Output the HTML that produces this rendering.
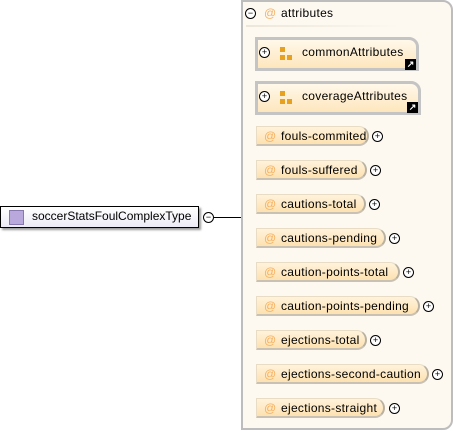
<!DOCTYPE html>
<html><head><meta charset="utf-8"><style>
body{margin:0;width:453px;height:431px;background:#fff;position:relative;overflow:hidden;font-family:"Liberation Sans",sans-serif;font-size:12px;color:#000}
.a{position:absolute}
.cont{left:241px;top:0;width:208px;height:426px;border:2px solid #bdbdbd;border-radius:0 10px 10px 0;background:#fdf9f1}
.circ{position:absolute;width:9px;height:9px;border:1px solid #000;border-radius:50%;background:#fff;font-size:9px;line-height:9px;text-align:center;box-sizing:content-box}
.attr{position:absolute;left:256px;height:20px;border-radius:0 10px 10px 0;background:linear-gradient(#fff3dc,#fde2b0);border:1px solid #e8dcc4;border-right:2px solid #b8b0a0;border-bottom:2px solid #c9c2b4;box-sizing:border-box;line-height:18px}
.attr .at{position:absolute;left:7px;color:#f5b060}
.attr .t{position:absolute;left:24px;letter-spacing:0.3px}
.grp{position:absolute;left:255px;height:34px;border:3px solid #c4c4c4;border-radius:0 10px 0 0;background:linear-gradient(#fff8ea,#fde6bc);box-sizing:border-box}
.sq{position:absolute;background:#e8a020;width:5px;height:5px}
.lnk{position:absolute;width:9px;height:9px;border:1px solid #000;background:#000;color:#fff;font-size:9px;line-height:9px;text-align:center;font-weight:bold}
</style></head><body>
<div class="a" style="left:0;top:206px;width:197px;height:20px;border:1px solid #000;background:linear-gradient(#fff,#eceaf6);box-shadow:2px 2px 2px #999"></div>
<div class="a" style="left:9px;top:210px;width:13px;height:13px;background:#b8a8dc;border:1px solid #8878b0"></div>
<div class="a" style="left:32px;top:209px">soccerStatsFoulComplexType</div>
<div class="circ" style="left:203px;top:212px">−</div>
<div class="a" style="left:214px;top:217px;width:27px;height:1px;background:#000"></div>
<div class="a cont"></div>
<div class="circ" style="left:245px;top:8px">−</div>
<div class="a" style="left:264px;top:6px;color:#f5b060">@</div>
<div class="a" style="left:281px;top:6px;letter-spacing:0.3px">attributes</div>
<div class="a" style="left:246px;top:25px;width:155px;height:2px;background:linear-gradient(90deg,#ece6da,#fdf9f1)"></div>

<div class="grp" style="top:37px;width:164px"></div>
<div class="circ" style="left:259px;top:47px">+</div>
<div class="sq" style="left:280px;top:47px"></div><div class="sq" style="left:280px;top:55px"></div><div class="sq" style="left:287px;top:55px"></div>
<div class="a" style="left:302px;top:45px;letter-spacing:0.3px">commonAttributes</div>
<div class="lnk" style="left:405px;top:59px">↗</div>

<div class="grp" style="top:81px;width:166px"></div>
<div class="circ" style="left:259px;top:91px">+</div>
<div class="sq" style="left:280px;top:91px"></div><div class="sq" style="left:280px;top:99px"></div><div class="sq" style="left:287px;top:99px"></div>
<div class="a" style="left:302px;top:89px;letter-spacing:0.3px">coverageAttributes</div>
<div class="lnk" style="left:407px;top:102px">↗</div>

<div class="attr" style="top:126px;width:113px"><span class="at">@</span><span class="t">fouls-commited</span></div><div class="circ" style="left:372px;top:131px">+</div>
<div class="attr" style="top:160px;width:111px"><span class="at">@</span><span class="t">fouls-suffered</span></div><div class="circ" style="left:370px;top:165px">+</div>
<div class="attr" style="top:194px;width:110px"><span class="at">@</span><span class="t">cautions-total</span></div><div class="circ" style="left:369px;top:199px">+</div>
<div class="attr" style="top:228px;width:130px"><span class="at">@</span><span class="t">cautions-pending</span></div><div class="circ" style="left:389px;top:233px">+</div>
<div class="attr" style="top:262px;width:144px"><span class="at">@</span><span class="t">caution-points-total</span></div><div class="circ" style="left:403px;top:267px">+</div>
<div class="attr" style="top:296px;width:164px"><span class="at">@</span><span class="t">caution-points-pending</span></div><div class="circ" style="left:423px;top:301px">+</div>
<div class="attr" style="top:330px;width:111px"><span class="at">@</span><span class="t">ejections-total</span></div><div class="circ" style="left:370px;top:335px">+</div>
<div class="attr" style="top:364px;width:173px"><span class="at">@</span><span class="t">ejections-second-caution</span></div><div class="circ" style="left:432px;top:369px">+</div>
<div class="attr" style="top:398px;width:129px"><span class="at">@</span><span class="t">ejections-straight</span></div><div class="circ" style="left:389px;top:403px">+</div>
</body></html>
